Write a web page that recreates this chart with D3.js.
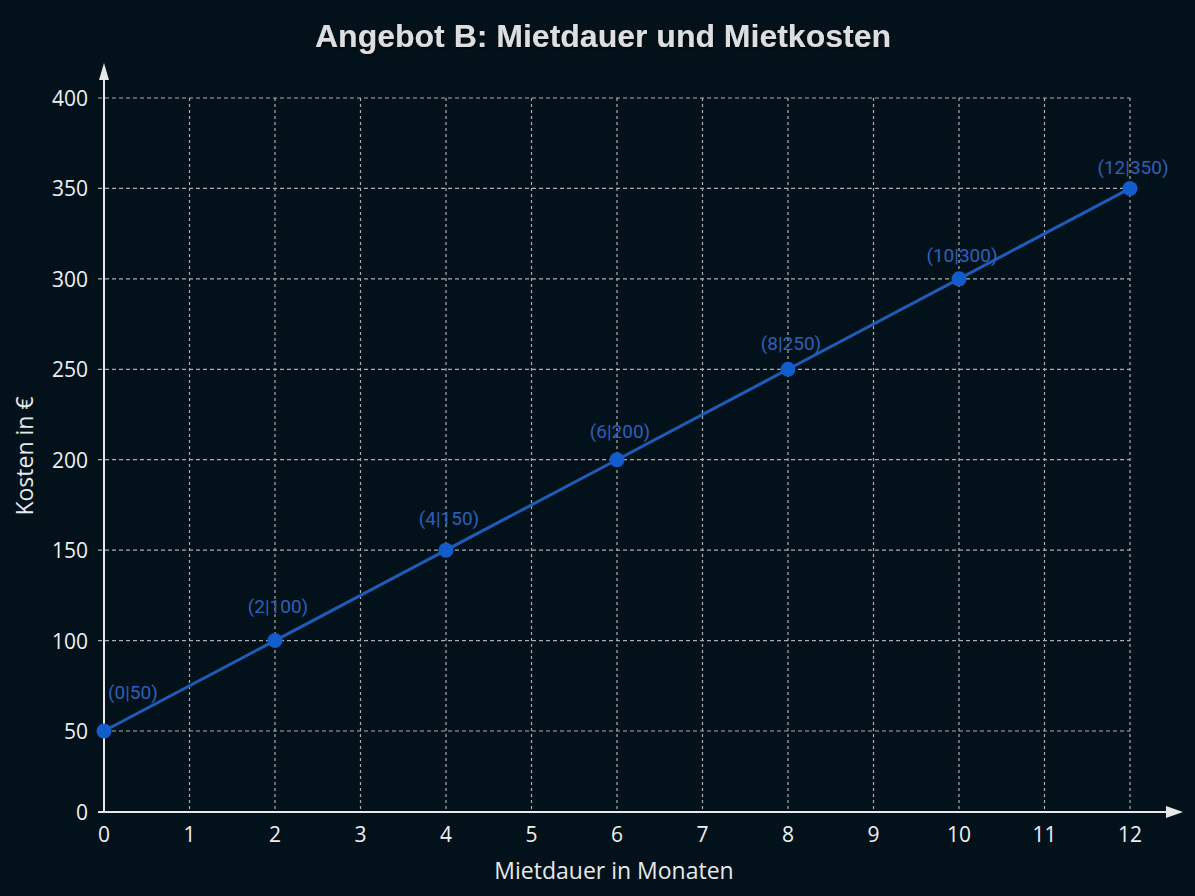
<!DOCTYPE html>
<html>
<head>
<meta charset="utf-8">
<script src="https://cdn.jsdelivr.net/npm/d3@7"></script>
<style>
  html, body { margin: 0; padding: 0; background: #03121a; }
  svg { display: block; }
</style>
</head>
<body>
<div id="chart"></div>
<script>
const months = [0, 2, 4, 6, 8, 10, 12];
const costs = [50, 100, 150, 200, 250, 300, 350];
const xTicks = [0, 1, 2, 3, 4, 5, 6, 7, 8, 9, 10, 11, 12];
const yTicks = [0, 50, 100, 150, 200, 250, 300, 350, 400];

const width = 1195, height = 896;
const svg = d3.select('#chart').append('svg')
    .attr('width', width)
    .attr('height', height);

svg.append('rect').attr('width', width).attr('height', height).attr('fill', '#03121a');

const x = d3.scaleLinear().domain([0, 12]).range([104, 1130]);
// the baseline band (0 to 50) is drawn a bit narrower than the rest in the original
const y = d3.scaleLinear().domain([0, 50, 400]).range([812, 731, 98]);

const defs = svg.append('defs');
defs.append('filter').attr('id', 'shadow')
    .append('feDropShadow')
    .attr('dx', 1).attr('dy', 1.5).attr('stdDeviation', 1)
    .attr('flood-color', '#000').attr('flood-opacity', 0.8);

// grid
svg.append('g').selectAll('line')
    .data(yTicks.filter(d => d > 0))
    .enter().append('line')
    .attr('x1', x(0) - 6).attr('x2', x(12))
    .attr('y1', d => y(d)).attr('y2', d => y(d))
    .attr('stroke', '#a8aeb2').attr('stroke-width', 1.2)
    .attr('stroke-dasharray', '4,3');

svg.append('g').selectAll('line')
    .data(xTicks.filter(d => d > 0))
    .enter().append('line')
    .attr('x1', d => x(d)).attr('x2', d => x(d))
    .attr('y1', y(400)).attr('y2', y(0))
    .attr('stroke', '#a8aeb2').attr('stroke-width', 1.2)
    .attr('stroke-dasharray', '3,3');

// axes
const axisColor = '#e6e8ea';
svg.append('line')
    .attr('x1', x(0) - 6).attr('x2', 1168)
    .attr('y1', y(0)).attr('y2', y(0))
    .attr('stroke', axisColor).attr('stroke-width', 2);
svg.append('path')
    .attr('d', `M1183,${y(0)} L1166,${y(0) - 6} L1166,${y(0) + 6} Z`)
    .attr('fill', axisColor);
svg.append('line')
    .attr('x1', x(0)).attr('x2', x(0))
    .attr('y1', y(0)).attr('y2', 78)
    .attr('stroke', axisColor).attr('stroke-width', 2);
svg.append('path')
    .attr('d', `M${x(0)},63 L${x(0) - 5},80 L${x(0) + 5},80 Z`)
    .attr('fill', axisColor);

// tick labels
svg.append('g').selectAll('text')
    .data(xTicks)
    .enter().append('text')
    .attr('x', d => x(d)).attr('y', 842)
    .attr('text-anchor', 'middle')
    .attr('font-family', 'Open Sans, Noto Sans, sans-serif')
    .attr('font-size', 21)
    .attr('fill', '#eef0f2')
    .text(d => d);

svg.append('g').selectAll('text')
    .data(yTicks)
    .enter().append('text')
    .attr('x', 88).attr('y', d => y(d) + 8)
    .attr('text-anchor', 'end')
    .attr('font-family', 'Open Sans, Noto Sans, sans-serif')
    .attr('font-size', 21)
    .attr('fill', '#eef0f2')
    .text(d => d);

// axis titles
svg.append('text')
    .attr('x', 614).attr('y', 879)
    .attr('text-anchor', 'middle')
    .attr('font-family', 'Open Sans, Noto Sans, sans-serif')
    .attr('font-size', 23)
    .attr('fill', '#e6e8ea')
    .text('Mietdauer in Monaten');

svg.append('text')
    .attr('transform', 'translate(33,456) rotate(-90)')
    .attr('text-anchor', 'middle')
    .attr('font-family', 'Open Sans, Noto Sans, sans-serif')
    .attr('font-size', 23)
    .attr('fill', '#e6e8ea')
    .text('Kosten in €');

// title
svg.append('text')
    .attr('x', 603).attr('y', 47)
    .attr('text-anchor', 'middle')
    .attr('font-family', 'Liberation Sans, Arial, sans-serif')
    .attr('font-weight', 'bold')
    .attr('font-size', 32)
    .attr('fill', '#dcdee0')
    .attr('filter', 'url(#shadow)')
    .text('Angebot B: Mietdauer und Mietkosten');

// line and points
const points = months.map((m, i) => ({ m: m, c: costs[i] }));

svg.append('path')
    .datum(points)
    .attr('fill', 'none')
    .attr('stroke', '#1f5cb8')
    .attr('stroke-width', 3)
    .attr('d', d3.line().x(d => x(d.m)).y(d => y(d.c)));

svg.append('g').selectAll('circle')
    .data(points)
    .enter().append('circle')
    .attr('cx', d => x(d.m)).attr('cy', d => y(d.c))
    .attr('r', 7.5)
    .attr('fill', '#135ccc');

svg.append('g').selectAll('text')
    .data(points)
    .enter().append('text')
    .attr('x', d => d.m === 0 ? x(d.m) + 4 : x(d.m) + 3)
    .attr('y', d => d.m === 0 ? y(d.c) - 32 : y(d.c) - (30 - 1.3 * d.m))
    .attr('text-anchor', d => d.m === 0 ? 'start' : 'middle')
    .attr('font-family', 'Roboto, sans-serif')
    .attr('font-size', 19)
    .attr('fill', '#2d60b8')
    .text(d => `(${d.m}|${d.c})`);
</script>
</body>
</html>
